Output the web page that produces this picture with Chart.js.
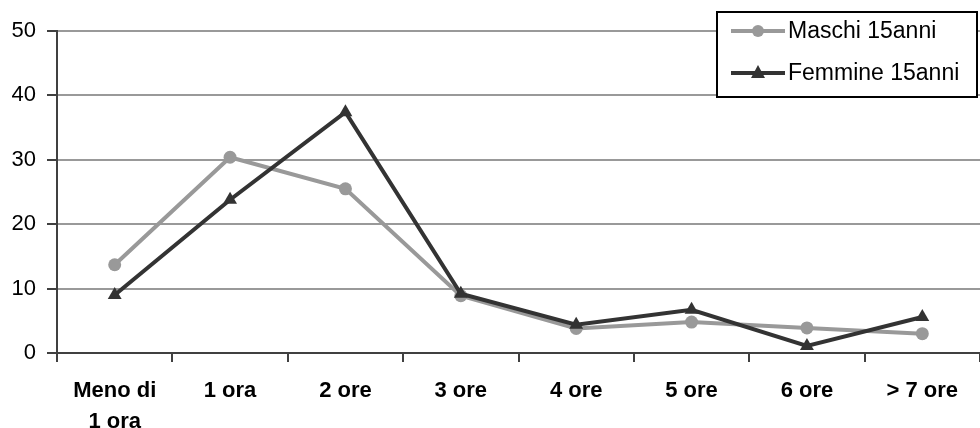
<!DOCTYPE html>
<html>
<head>
<meta charset="utf-8">
<script src="https://cdn.jsdelivr.net/npm/chart.js@4.4.1/dist/chart.umd.min.js"></script>
<style>
  html, body { margin: 0; padding: 0; background: #fff; }
  canvas { display: block; }
</style>
</head>
<body>
<canvas id="chart" width="980" height="428"></canvas>
<script>
// Hours spent per day, share (%) of 15 year olds
const categories = [["Meno di", "1 ora"], "1 ora", "2 ore", "3 ore", "4 ore", "5 ore", "6 ore", "> 7 ore"];
const maschi = [13.7, 30.4, 25.5, 8.9, 3.8, 4.8, 3.9, 3.0];
const femmine = [9.0, 23.8, 37.4, 9.2, 4.4, 6.7, 1.1, 5.6];
const seriesNames = ["Maschi 15anni", "Femmine 15anni"];

const FONT = "'Liberation Sans', Arial, sans-serif";

// legend drawn inside the plot, boxed, top right
const boxLegend = {
  id: 'boxLegend',
  afterDraw(chart) {
    const ctx = chart.ctx;
    const x = 717, y = 12, w = 260, h = 85;
    ctx.save();
    ctx.fillStyle = '#fff';
    ctx.fillRect(x, y, w, h);
    ctx.strokeStyle = '#000';
    ctx.lineWidth = 2;
    ctx.strokeRect(x, y, w, h);

    ctx.font = '23px ' + FONT;
    ctx.textBaseline = 'middle';
    chart.data.datasets.forEach((ds, i) => {
      const cy = y + 19 + i * 42;
      ctx.strokeStyle = ds.borderColor;
      ctx.lineWidth = 4;
      ctx.beginPath();
      ctx.moveTo(x + 14, cy);
      ctx.lineTo(x + 68, cy);
      ctx.stroke();
      ctx.fillStyle = ds.borderColor;
      const mx = x + 41;
      ctx.beginPath();
      if (ds.pointStyle === 'triangle') {
        ctx.moveTo(mx, cy - 8);
        ctx.lineTo(mx + 7, cy + 5);
        ctx.lineTo(mx - 7, cy + 5);
        ctx.closePath();
      } else {
        ctx.arc(mx, cy, 6, 0, Math.PI * 2);
      }
      ctx.fill();
      ctx.fillStyle = '#000';
      ctx.fillText(ds.label, x + 71, cy + 1);
    });
    ctx.restore();
  }
};

new Chart(document.getElementById('chart'), {
  type: 'line',
  data: {
    labels: categories,
    datasets: [
      {
        label: seriesNames[0],
        data: maschi,
        borderColor: '#999999',
        backgroundColor: '#999999',
        borderWidth: 4,
        pointStyle: 'circle',
        pointRadius: 6.5,
        pointBorderWidth: 0,
        tension: 0,
        order: 1
      },
      {
        label: seriesNames[1],
        data: femmine,
        borderColor: '#333333',
        backgroundColor: '#333333',
        borderWidth: 4,
        pointStyle: 'triangle',
        pointRadius: 8,
        pointBorderWidth: 0,
        tension: 0,
        order: 0
      }
    ]
  },
  options: {
    responsive: false,
    animation: false,
    devicePixelRatio: 1,
    layout: { autoPadding: false, padding: { top: 31, right: 0, bottom: 0, left: 0 } },
    plugins: {
      legend: { display: false },
      title: { display: false },
      tooltip: { enabled: false }
    },
    scales: {
      y: {
        min: 0,
        max: 50,
        ticks: {
          stepSize: 10,
          color: '#000',
          padding: 11,
          font: { family: FONT, size: 22 }
        },
        grid: {
          color: '#999999',
          lineWidth: 2,
          tickLength: 10,
          tickColor: '#404040',
          tickWidth: 2
        },
        border: { color: '#404040', width: 2 },
        afterFit(scale) { scale.width = 57; }
      },
      x: {
        offset: true,
        ticks: {
          color: '#000',
          padding: 14,
          maxRotation: 0,
          autoSkip: false,
          font: { family: FONT, size: 22, weight: 'bold', lineHeight: 1.4 }
        },
        grid: {
          offset: true,
          drawOnChartArea: false,
          tickLength: 9,
          color: '#404040',
          lineWidth: 2
        },
        border: { color: '#404040', width: 2 },
        afterFit(scale) {
          scale.height = 75;
          scale.paddingLeft = 0;
          scale.paddingRight = 0;
        }
      }
    }
  },
  plugins: [boxLegend]
});
</script>
</body>
</html>
